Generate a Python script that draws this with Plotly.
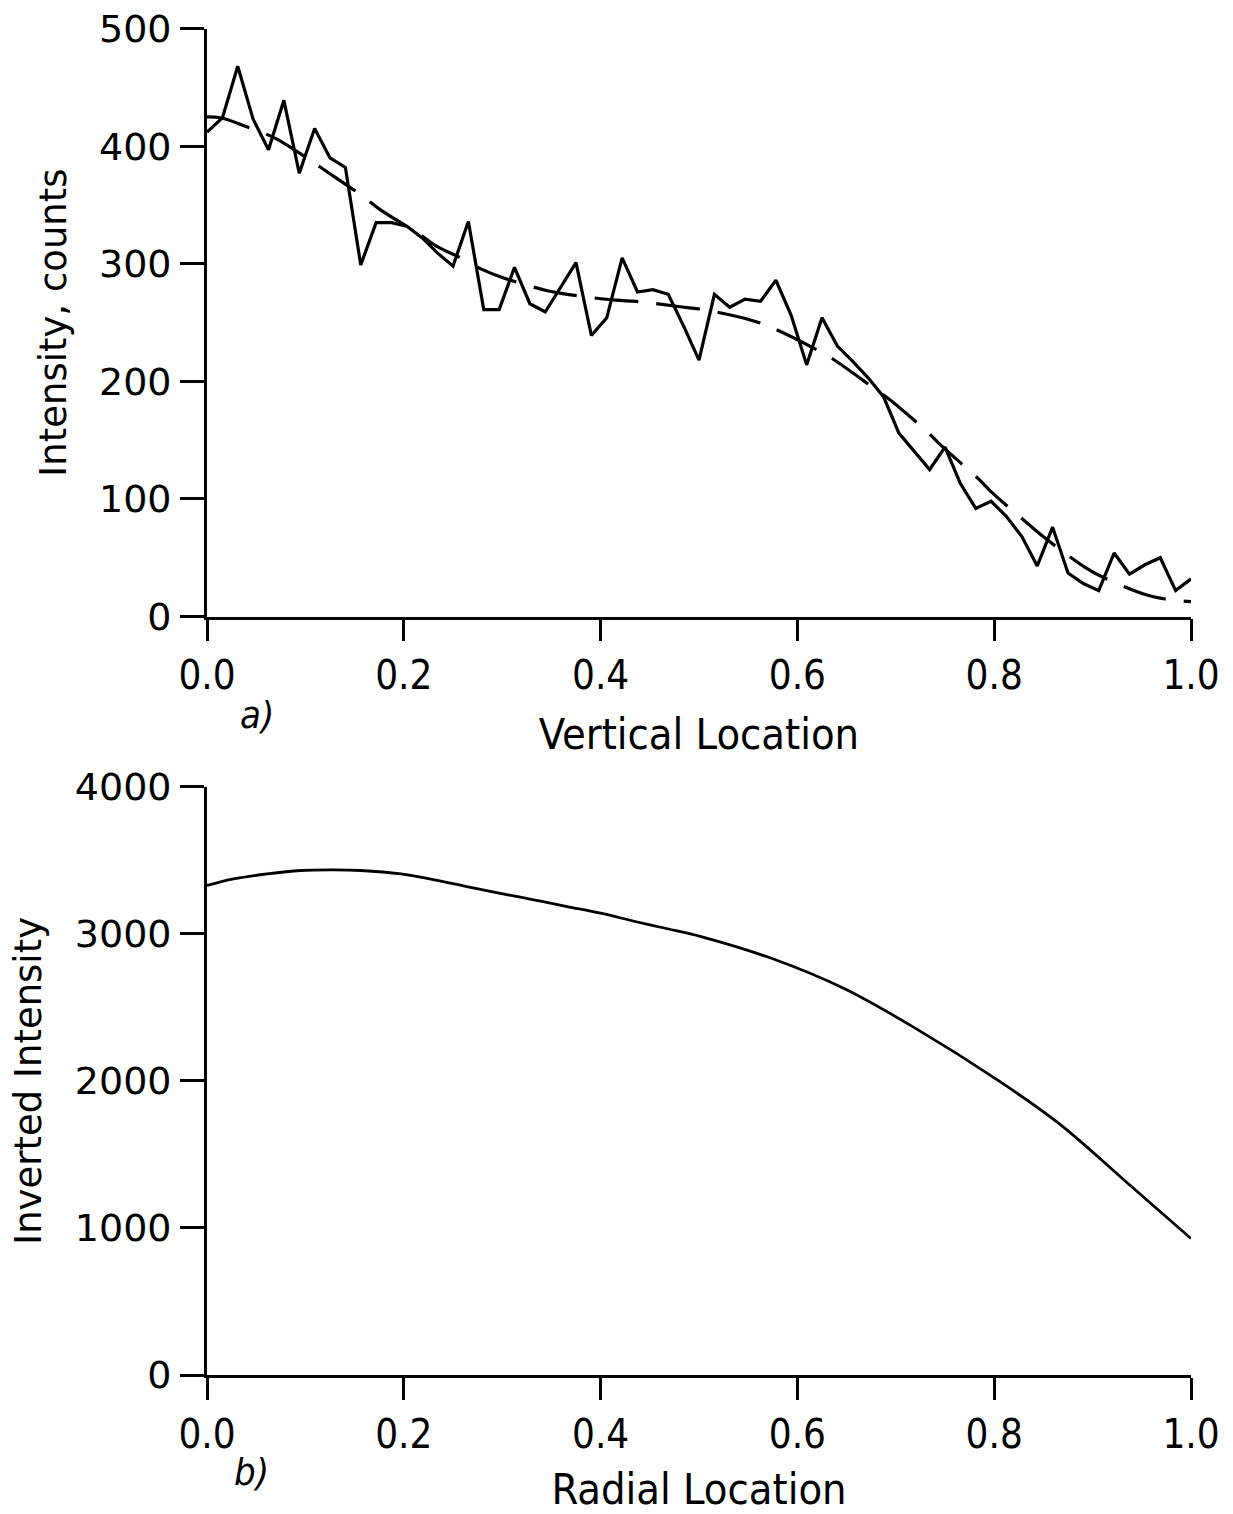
import numpy as np
import plotly.graph_objects as go
from plotly.subplots import make_subplots

# ---------------- data: panel a) ----------------
# measured profile, 65 samples evenly spaced on [0, 1]
vert_x = np.linspace(0.0, 1.0, 65)
measured_counts = [412, 424, 468, 423, 397, 439, 377, 415, 390, 382, 299, 335, 335,
                   332, 322, 309, 298, 336, 261, 261, 297, 266, 259, 280, 301, 239,
                   254, 305, 276, 278, 274, 247, 218, 274, 263, 270, 268, 286, 256,
                   214, 254, 230, 217, 203, 187, 156, 140, 125, 144, 113, 92, 98,
                   85, 68, 43, 76, 37, 28, 22, 54, 36, 44, 50, 22, 32]

# smooth fit (dashed)
fit_x = [0.0, 0.015, 0.039, 0.058, 0.071, 0.098, 0.119, 0.159, 0.176, 0.217, 0.234,
         0.258, 0.28, 0.298, 0.346, 0.366, 0.415, 0.436, 0.485, 0.505, 0.553, 0.573,
         0.617, 0.636, 0.678, 0.693, 0.732, 0.748, 0.784, 0.797, 0.837, 0.852, 0.892,
         0.909, 0.956, 0.976, 1.0]
fit_counts = [425, 424, 417, 411, 406, 392, 380, 357, 346, 324.5, 314.5, 305, 295, 289,
              277, 274, 269, 268, 263, 261, 252, 246, 228, 219, 194, 185, 157, 144,
              117, 106, 77, 66.5, 42, 34, 18, 14.6, 12.6]

# ---------------- data: panel b) ----------------
radial_x = [0.0, 0.027, 0.061, 0.095, 0.129, 0.156, 0.197, 0.23, 0.264, 0.298, 0.332,
            0.366, 0.4, 0.434, 0.468, 0.502, 0.575, 0.648, 0.718, 0.804, 0.866, 0.936, 1.0]
inverted = [3328, 3373, 3407, 3430, 3434, 3430, 3407, 3368, 3321, 3275, 3231, 3185,
            3140, 3085, 3034, 2981, 2830, 2626, 2365, 2003, 1709, 1302, 928]

x_ticks = [0.0, 0.2, 0.4, 0.6, 0.8, 1.0]
x_ticktext = ["0.0", "0.2", "0.4", "0.6", "0.8", "1.0"]
ya_ticks = [0, 100, 200, 300, 400, 500]
yb_ticks = [0, 1000, 2000, 3000, 4000]

W, H = 1233, 1514
NARROW = "DejaVu Sans Condensed, Liberation Sans Narrow, DejaVu Sans, sans-serif"
WIDE = "DejaVu Sans, Verdana, sans-serif"

fig = make_subplots(rows=2, cols=1)

fig.add_trace(go.Scatter(x=vert_x, y=measured_counts, mode="lines",
                         line=dict(color="black", width=3.2), showlegend=False), row=1, col=1)
fig.add_trace(go.Scatter(x=fit_x, y=fit_counts, mode="lines",
                         line=dict(color="black", width=3.2, dash="44px,18px", shape="spline"),
                         showlegend=False), row=1, col=1)
fig.add_trace(go.Scatter(x=radial_x, y=inverted, mode="lines",
                         line=dict(color="black", width=2.8, shape="spline"),
                         showlegend=False), row=2, col=1)

common_x = dict(range=[0, 1], tickvals=x_ticks, ticktext=x_ticktext, ticks="outside",
                ticklen=22, tickwidth=2.5, tickcolor="black", showline=True, linewidth=2.8,
                linecolor="black", showgrid=False, zeroline=False,
                tickfont=dict(family=NARROW, size=40, color="black"),
                ticklabelstandoff=0, automargin=False)
common_y = dict(ticks="outside", ticklen=24, tickwidth=2.5, tickcolor="black",
                showline=True, linewidth=2.8, linecolor="black", showgrid=False,
                zeroline=False, tickfont=dict(family=WIDE, size=38, color="black"),
                ticklabelstandoff=1, automargin=False)

fig.update_xaxes(**common_x)
fig.update_yaxes(**common_y)

fig.update_layout(
    width=W, height=H,
    margin=dict(l=207, r=42, t=0, b=0),
    paper_bgcolor="white", plot_bgcolor="white",
    xaxis=dict(domain=[0, 1],
               title=dict(text="Vertical Location", standoff=22,
                          font=dict(family=NARROW, size=43, color="black"))),
    yaxis=dict(domain=[0.5928, 0.9811], range=[0, 500], tickvals=ya_ticks,
               title=dict(text="Intensity, counts", standoff=22,
                          font=dict(family=WIDE, size=37, color="black"))),
    xaxis2=dict(domain=[0, 1],
                title=dict(text="Radial Location", standoff=22,
                           font=dict(family=NARROW, size=43, color="black"))),
    yaxis2=dict(domain=[0.0918, 0.4804], range=[0, 4000], tickvals=yb_ticks,
                title=dict(text="Inverted Intensity", standoff=22,
                           font=dict(family=WIDE, size=37, color="black"))),
    annotations=[
        dict(text="a)", x=0.031, y=0.5277, xref="paper", yref="paper", showarrow=False,
             font=dict(family=NARROW, size=38, color="black", style="italic")),
        dict(text="b)", x=0.045, y=0.0277, xref="paper", yref="paper", showarrow=False,
             yanchor="middle", xanchor="center",
             font=dict(family=NARROW, size=38, color="black", style="italic")),
    ],
)

fig.write_html("out.html")
